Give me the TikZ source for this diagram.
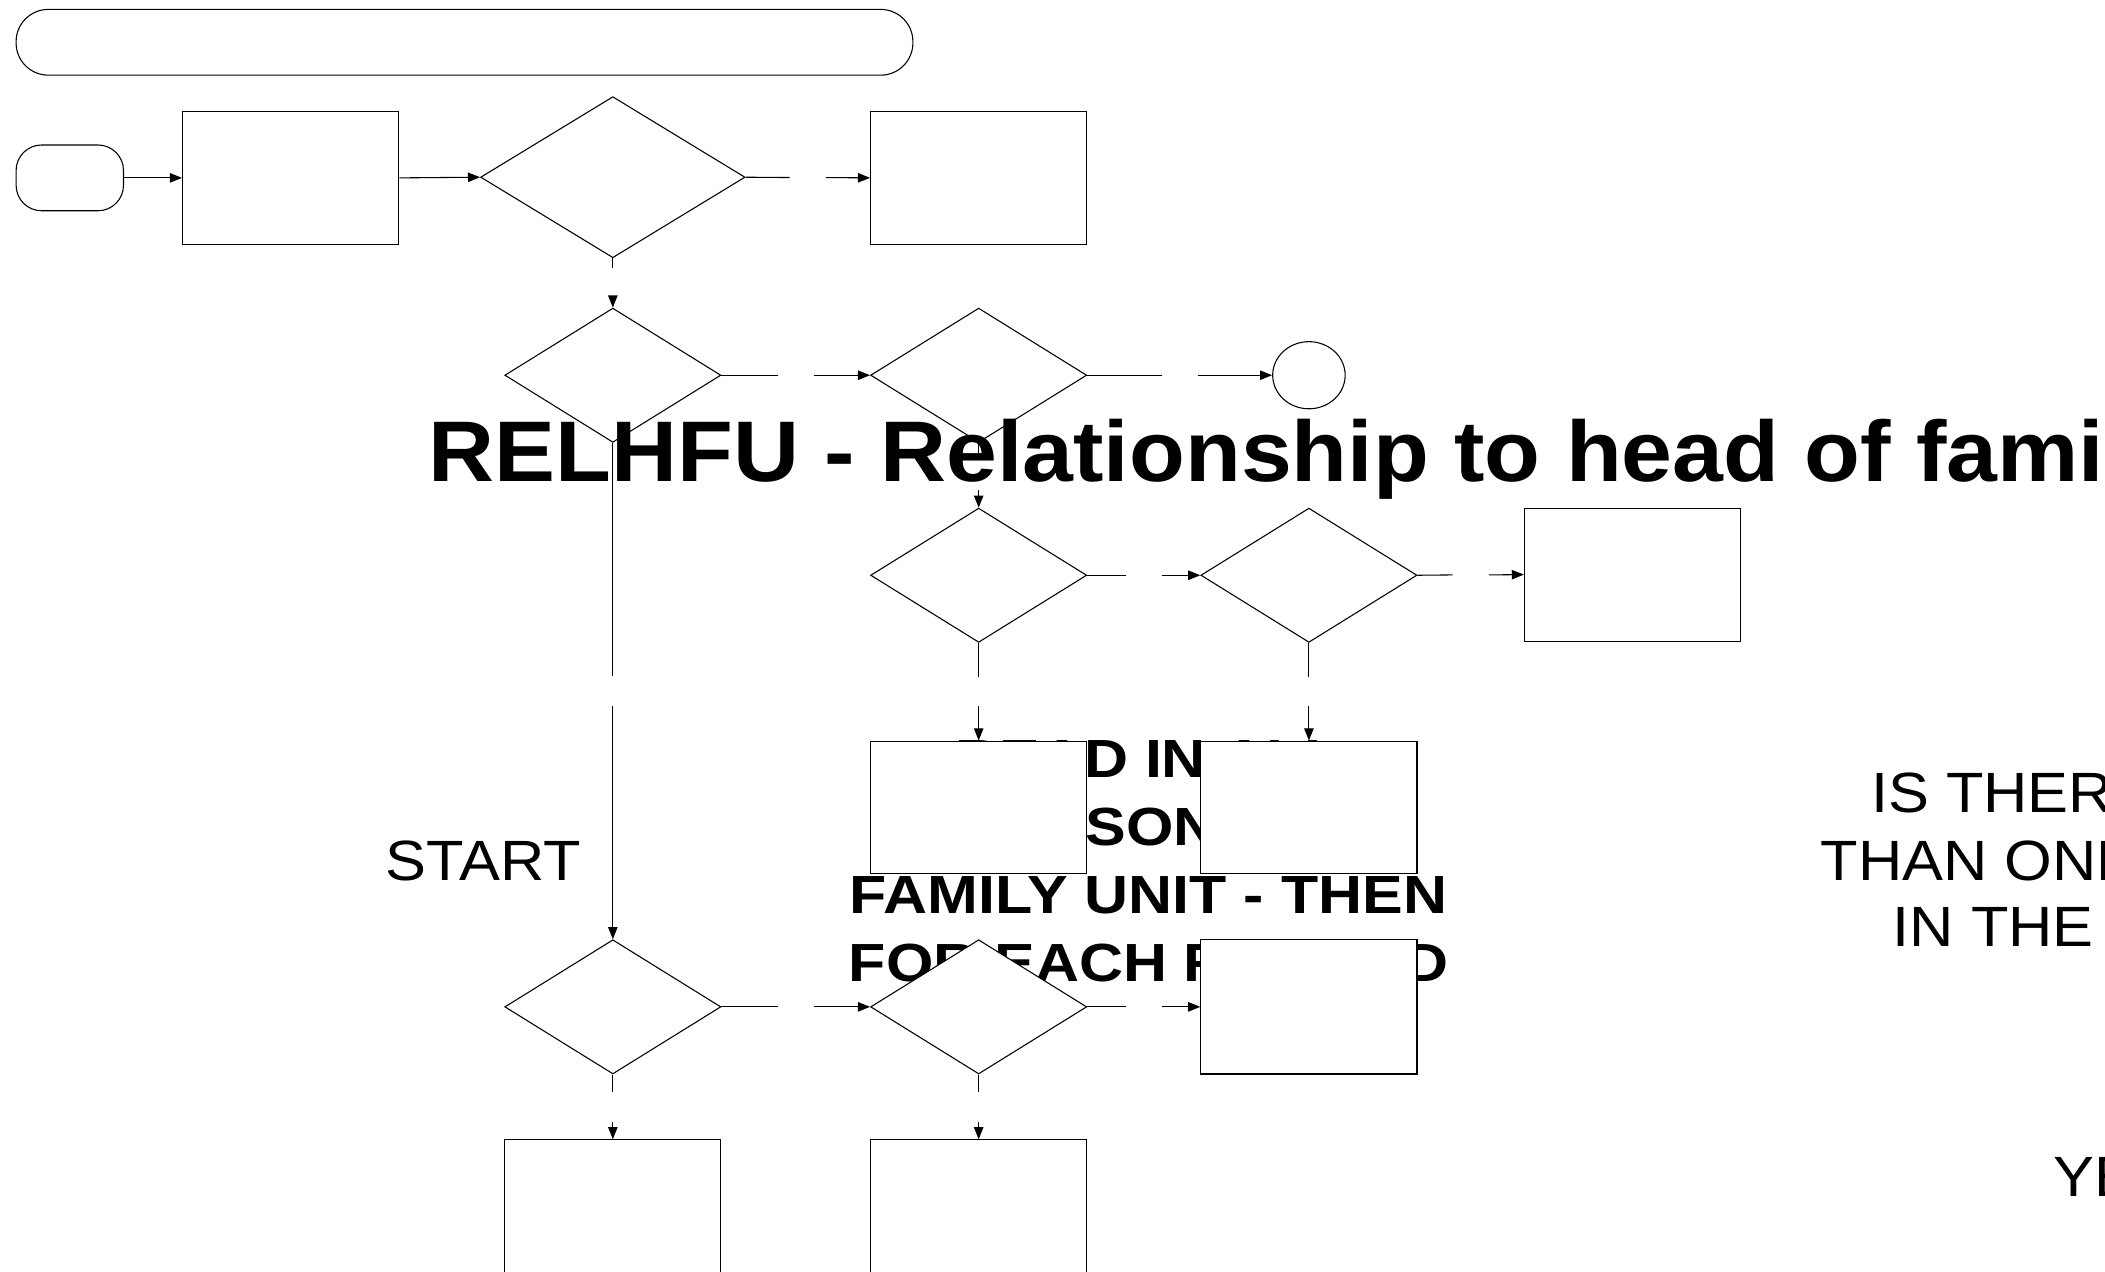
\documentclass[tikz,border=0pt]{standalone}
\usepackage{fontspec}
\setmainfont{Liberation Sans}
\newfontfamily\titlefont[FakeStretch=1.062]{Liberation Sans}
\newfontfamily\bodyfont[FakeStretch=1.135]{Liberation Sans}
\newfontfamily\labelfont[FakeStretch=1.08]{Liberation Sans}
\usetikzlibrary{shapes.geometric,arrows.meta,calc}
\newcommand\gapconnH[2]{%
  \draw (#1.east) -- ($(#1.east)!0.5!(#2.west)+(-13.5,0)$);
  \draw[arr] ($(#1.east)!0.5!(#2.west)+(13.5,0)$) -- (#2.west);}
\newcommand\gapconnV[2]{%
  \draw (#1.south) -- ($(#1.south)!0.5!(#2.north)+(0,-11)$);
  \draw[arr] ($(#1.south)!0.5!(#2.north)+(0,11)$) -- (#2.north);}
\begin{document}
\begin{tikzpicture}[x=1pt,y=-1pt,line width=0.8pt,
  box/.style={draw, fill=white, rectangle, inner sep=0pt, minimum width=161pt, minimum height=99pt},
  dia/.style={draw, fill=white, diamond, inner sep=0pt, minimum width=161pt, minimum height=100pt},
  arr/.style={-{Triangle[length=9pt,width=7pt]}},
  lbl/.style={inner sep=0pt, anchor=base west, font=\labelfont\fontsize{42.3}{48}\selectfont},
  bld/.style={inner sep=0pt, anchor=base, font=\bodyfont\bfseries\fontsize{40}{48}\selectfont},
]
\useasboundingbox (0,0) rectangle (1568,947);
\clip (0,0) rectangle (1568,947);
\fill[white] (0,0) rectangle (1568,947);

% body text (lies under the shapes)
\node[bld] (t1) at (855.5,579.5) {READ IN ALL};
\node[bld] (t2) at (855.5,630) {PERSONS IN};
\node[bld] (t3) at (855.5,680.5) {FAMILY UNIT - THEN};
\node[bld] (t4) at (855.5,731) {FOR EACH RECORD};

% shapes
\node[draw, fill=white, rectangle, rounded corners=24pt, inner sep=0pt, minimum width=668pt, minimum height=49pt] (banner) at (346,31.5) {};
\node[draw, fill=white, rectangle, rounded corners=19pt, inner sep=0pt, minimum width=80pt, minimum height=49pt] (term) at (52,132.5) {};
\node[box] (box1) at (216.5,132.5) {};
\node[dia, minimum width=197pt, minimum height=120pt] (dia1) at (456.5,132) {};
\node[box] (box2) at (729,132.5) {};
\node[dia] (dia2) at (456.5,279.5) {};
\node[dia] (dia4) at (729,279.5) {};
\node[draw, fill=white, ellipse, inner sep=0pt, minimum width=54pt, minimum height=50pt] (circ) at (975,279.5) {};
\node[dia] (dia5) at (729,428.5) {};
\node[dia] (dia6) at (975,428.5) {};
\node[box] (box3) at (1216,428) {};
\node[box] (box4) at (729,601.5) {};
\node[box] (box5) at (975,601.5) {};
\node[dia] (dia3) at (456.5,750) {};
\node[dia] (dia7) at (729,750) {};
\node[box, minimum height=100pt] (box6) at (975,750) {};
\node[box, minimum height=100pt] (box7) at (456.5,899) {};
\node[box, minimum height=100pt] (box8) at (729,899) {};

% connectors
\draw[arr] (term.east) -- (box1.west);
\draw[arr] (box1.east) -- (dia1.west);
\gapconnH{dia1}{box2}
\gapconnV{dia1}{dia2}
\gapconnH{dia2}{dia4}
\gapconnH{dia4}{circ}
\gapconnV{dia4}{dia5}
\gapconnH{dia5}{dia6}
\gapconnH{dia6}{box3}
\gapconnV{dia5}{box4}
\gapconnV{dia6}{box5}
\gapconnV{dia2}{dia3}
\gapconnH{dia3}{dia7}
\gapconnH{dia7}{box6}
\gapconnV{dia3}{box7}
\gapconnV{dia7}{box8}

% labels
\node[inner sep=0pt, anchor=base west, font=\titlefont\bfseries\fontsize{64.1}{70}\selectfont] (title) at (319,359) {RELHFU - Relationship to head of fami};
\node[lbl] (start) at (287,656) {START};
\node[lbl] (q1) at (1393.5,605) {IS THER};
\node[lbl] (q2) at (1356,655.5) {THAN ONE};
\node[lbl] (q3) at (1409.5,705) {IN THE};
\node[lbl] (yes) at (1529,891.5) {YE};
\end{tikzpicture}
\end{document}
